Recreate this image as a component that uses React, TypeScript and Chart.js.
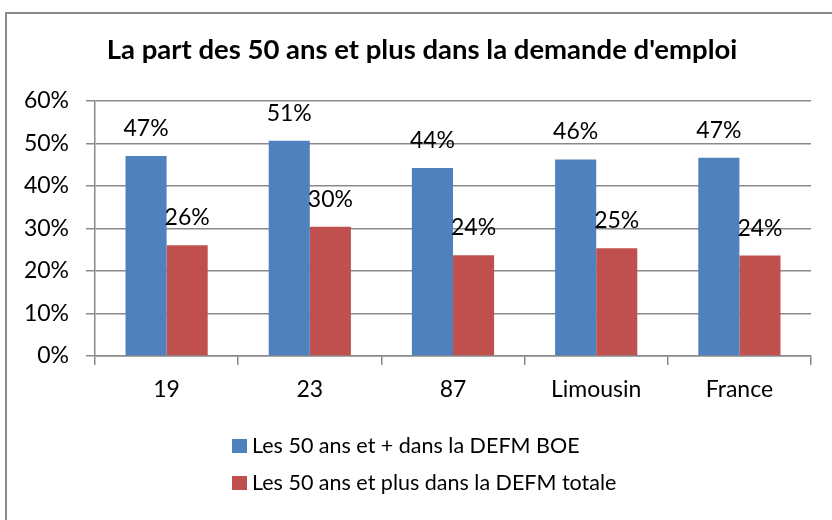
import React, { useEffect, useRef } from "react";
import { Chart, registerables } from "chart.js";

Chart.register(...registerables);

const chartTitle = "La part des 50 ans et plus dans la demande d'emploi";
const categories = ["19", "23", "87", "Limousin", "France"];
const seriesNames = [
  "Les 50 ans et + dans la DEFM BOE",
  "Les 50 ans et plus dans la DEFM totale",
];
const boeShare = [0.47, 0.506, 0.442, 0.462, 0.466];
const totalShare = [0.26, 0.304, 0.237, 0.253, 0.236];
const seriesColors = ["#4F81BD", "#C0504D"];
const yMin = 0;
const yMax = 0.6;
const yStep = 0.1;

const FONT = "Lato, 'Open Sans', sans-serif";

const pct = (v: number) => Math.round(v * 100) + "%";

const decorPlugin = {
  id: "decor",
  beforeDraw(chart: any) {
    const ctx = chart.ctx;
    ctx.save();
    ctx.fillStyle = "#ffffff";
    ctx.fillRect(0, 0, chart.width, chart.height);
    ctx.strokeStyle = "#8a8a8a";
    ctx.lineWidth = 2;
    ctx.strokeRect(6, 13, 900, 600);
    ctx.restore();
  },
  afterDatasetsDraw(chart: any) {
    const ctx = chart.ctx;
    ctx.save();
    ctx.fillStyle = "#000";
    ctx.font = `23px ${FONT}`;
    ctx.textAlign = "center";
    ctx.textBaseline = "alphabetic";
    chart.data.datasets.forEach((ds: any, i: number) => {
      const meta = chart.getDatasetMeta(i);
      meta.data.forEach((bar: any, j: number) => {
        ctx.fillText(pct(ds.data[j]), bar.x, bar.y - 20);
      });
    });
    ctx.restore();
  },
  afterDraw(chart: any) {
    const ctx = chart.ctx;
    ctx.save();
    ctx.fillStyle = "#000";
    ctx.font = `bold 27.5px ${FONT}`;
    ctx.textAlign = "center";
    ctx.textBaseline = "alphabetic";
    ctx.fillText(chartTitle, 422, 59);

    const rows = [446, 483];
    chart.data.datasets.forEach((ds: any, i: number) => {
      const cy = rows[i];
      ctx.fillStyle = ds.backgroundColor;
      ctx.fillRect(232, cy - 7, 15, 14);
      ctx.fillStyle = "#000";
      ctx.font = `21.5px ${FONT}`;
      ctx.textAlign = "left";
      ctx.textBaseline = "middle";
      ctx.fillText(ds.label, 252, cy);
    });
    ctx.restore();
  },
};

export default function App() {
  const ref = useRef<HTMLCanvasElement | null>(null);

  useEffect(() => {
    if (!ref.current) return;
    const chart = new Chart(ref.current, {
      type: "bar",
      data: {
        labels: categories,
        datasets: [
          {
            label: seriesNames[0],
            data: boeShare,
            backgroundColor: seriesColors[0],
            categoryPercentage: 0.574,
            barPercentage: 1,
          },
          {
            label: seriesNames[1],
            data: totalShare,
            backgroundColor: seriesColors[1],
            categoryPercentage: 0.574,
            barPercentage: 1,
          },
        ],
      },
      options: {
        responsive: false,
        animation: false,
        devicePixelRatio: 1,
        layout: { padding: { top: 100.7, right: 21, bottom: 0, left: 0 } },
        plugins: {
          legend: { display: false },
          title: { display: false },
          tooltip: { enabled: false },
        },
        scales: {
          x: {
            afterFit: (s: any) => {
              s.height = 164;
            },
            grid: {
              offset: true,
              drawOnChartArea: false,
              drawTicks: true,
              tickLength: 9,
              color: "#8a8a8a",
              lineWidth: 1.5,
            },
            border: { display: true, color: "#8a8a8a", width: 1.5 },
            ticks: {
              color: "#000",
              padding: 11,
              font: { family: FONT, size: 23 },
            },
          },
          y: {
            min: yMin,
            max: yMax,
            afterFit: (s: any) => {
              s.width = 95;
            },
            grid: {
              drawTicks: true,
              tickLength: 9,
              color: "#8a8a8a",
              lineWidth: 1.5,
            },
            border: { display: true, color: "#8a8a8a", width: 1.5 },
            ticks: {
              stepSize: yStep,
              color: "#000",
              padding: 17,
              font: { family: FONT, size: 23 },
              callback: (v: any) => pct(Number(v)),
            },
          },
        },
      },
      plugins: [decorPlugin],
    });
    return () => chart.destroy();
  }, []);

  return (
    <div style={{ position: "absolute", left: 0, top: 0, width: 832, height: 520 }}>
      <canvas ref={ref} width={832} height={520} style={{ display: "block" }} />
    </div>
  );
}
